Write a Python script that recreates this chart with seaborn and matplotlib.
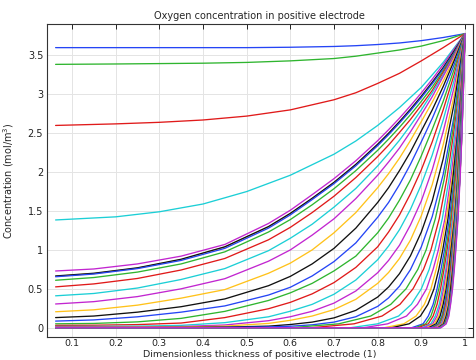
import matplotlib
matplotlib.use("Agg")
import matplotlib.pyplot as plt
import seaborn as sns
import pandas as pd

# ---------------- data ----------------
x_domain_start = 0.0625
c_surface = 3.78

# early profiles: concentration at shared positions
x_early = [0.0625, 0.2, 0.3, 0.4, 0.5, 0.6, 0.7, 0.75, 0.8, 0.85, 0.9, 0.95, 1.0]
c01 = [3.60, 3.60, 3.60, 3.60, 3.60, 3.605, 3.615, 3.625, 3.64, 3.66, 3.69, 3.73, 3.78]
c02 = [3.385, 3.39, 3.395, 3.40, 3.41, 3.43, 3.46, 3.49, 3.53, 3.57, 3.62, 3.69, 3.78]
c03 = [2.60, 2.62, 2.64, 2.67, 2.72, 2.80, 2.93, 3.02, 3.14, 3.27, 3.43, 3.60, 3.78]
c04 = [1.385, 1.425, 1.49, 1.59, 1.75, 1.96, 2.23, 2.40, 2.60, 2.83, 3.09, 3.41, 3.78]

# middle profiles: concentration at shared positions
x_mid = [0.0625, 0.15, 0.25, 0.35, 0.45, 0.55, 0.6, 0.65, 0.7, 0.75, 0.8,
         0.825, 0.85, 0.875, 0.9, 0.925, 0.95, 0.975, 1.0]
c05 = [0.729, 0.755, 0.82, 0.92, 1.07, 1.34, 1.51, 1.71, 1.916, 2.146, 2.404, 2.545, 2.694, 2.852, 3.018, 3.194, 3.381, 3.579, 3.78]
c06 = [0.66, 0.695, 0.765, 0.875, 1.035, 1.295, 1.465, 1.658, 1.862, 2.093, 2.352, 2.493, 2.643, 2.801, 2.969, 3.148, 3.337, 3.55, 3.78]
c07 = [0.665, 0.70, 0.77, 0.88, 1.04, 1.30, 1.47, 1.664, 1.869, 2.10, 2.359, 2.50, 2.65, 2.808, 2.976, 3.155, 3.343, 3.555, 3.78]
c08 = [0.655, 0.69, 0.76, 0.865, 1.02, 1.28, 1.45, 1.647, 1.851, 2.081, 2.34, 2.481, 2.631, 2.789, 2.957, 3.136, 3.325, 3.535, 3.78]
c09 = [0.61, 0.645, 0.715, 0.82, 0.975, 1.23, 1.39, 1.58, 1.787, 2.019, 2.28, 2.424, 2.576, 2.738, 2.91, 3.093, 3.30, 3.52, 3.78]
c10 = [0.525, 0.563, 0.633, 0.742, 0.89, 1.13, 1.29, 1.48, 1.69, 1.93, 2.20, 2.347, 2.51, 2.676, 2.86, 3.05, 3.28, 3.51, 3.78]
c11 = [0.41, 0.44, 0.51, 0.62, 0.76, 0.99, 1.15, 1.33, 1.55, 1.79, 2.08, 2.241, 2.41, 2.60, 2.80, 3.02, 3.25, 3.50, 3.78]
c12 = [0.305, 0.335, 0.40, 0.50, 0.63, 0.855, 1.0, 1.19, 1.40, 1.66, 1.96, 2.13, 2.31, 2.517, 2.74, 2.97, 3.23, 3.49, 3.78]
c13 = [0.205, 0.23, 0.29, 0.38, 0.49, 0.70, 0.83, 1.0, 1.22, 1.48, 1.80, 1.98, 2.18, 2.406, 2.65, 2.90, 3.17, 3.46, 3.78]
c14 = [0.13, 0.15, 0.20, 0.27, 0.37, 0.54, 0.66, 0.82, 1.02, 1.28, 1.61, 1.80, 2.02, 2.258, 2.53, 2.80, 3.10, 3.43, 3.78]
c15 = [0.085, 0.10, 0.14, 0.20, 0.28, 0.42, 0.52, 0.665, 0.85, 1.09, 1.42, 1.61, 1.84, 2.10, 2.39, 2.69, 3.02, 3.38, 3.78]
c16 = [0.05, 0.055, 0.075, 0.12, 0.21, 0.35, 0.448, 0.57, 0.73, 0.92, 1.22, 1.41, 1.64, 1.90, 2.21, 2.55, 2.91, 3.32, 3.78]
c17 = [0.03, 0.032, 0.04, 0.06, 0.13, 0.244, 0.326, 0.435, 0.58, 0.775, 1.04, 1.23, 1.45, 1.72, 2.03, 2.39, 2.80, 3.25, 3.78]
c18 = [0.017, 0.017, 0.02, 0.03, 0.065, 0.14, 0.212, 0.30, 0.43, 0.613, 0.874, 1.05, 1.26, 1.52, 1.84, 2.22, 2.67, 3.18, 3.78]
c19 = [0.009, 0.009, 0.01, 0.015, 0.035, 0.09, 0.141, 0.211, 0.316, 0.472, 0.707, 0.865, 1.06, 1.32, 1.63, 2.03, 2.52, 3.09, 3.78]
c20 = [0.005, 0.005, 0.006, 0.008, 0.02, 0.055, 0.095, 0.15, 0.233, 0.365, 0.57, 0.71, 0.89, 1.125, 1.44, 1.84, 2.35, 2.98, 3.78]
c21 = [0.002, 0.002, 0.002, 0.003, 0.008, 0.02, 0.041, 0.072, 0.126, 0.223, 0.394, 0.523, 0.695, 0.923, 1.23, 1.63, 2.17, 2.88, 3.78]
c22 = [0.001, 0.001, 0.001, 0.001, 0.003, 0.01, 0.019, 0.037, 0.072, 0.141, 0.274, 0.383, 0.534, 0.746, 1.04, 1.43, 1.97, 2.72, 3.78]

# late (front) profiles: position where each curve reaches these concentrations
c_levels = [0.0, 0.05, 0.15, 0.3, 0.5, 0.75, 1.0, 1.4, 1.9, 2.5, 3.1, 3.78]
c23 = [0.600, 0.711, 0.784, 0.830, 0.865, 0.892, 0.911, 0.932, 0.952, 0.971, 0.986, 1.0]
c24 = [0.649, 0.746, 0.810, 0.851, 0.881, 0.905, 0.922, 0.941, 0.958, 0.974, 0.988, 1.0]
c25 = [0.738, 0.800, 0.848, 0.877, 0.900, 0.918, 0.931, 0.948, 0.963, 0.977, 0.989, 1.0]
c26 = [0.768, 0.823, 0.866, 0.891, 0.912, 0.927, 0.939, 0.954, 0.967, 0.980, 0.990, 1.0]
c27 = [0.815, 0.860, 0.888, 0.907, 0.922, 0.934, 0.944, 0.957, 0.970, 0.982, 0.991, 1.0]
c28 = [0.832, 0.872, 0.898, 0.915, 0.929, 0.940, 0.949, 0.961, 0.972, 0.983, 0.992, 1.0]
c29 = [0.878, 0.904, 0.916, 0.927, 0.936, 0.945, 0.953, 0.964, 0.975, 0.984, 0.992, 1.0]
c30 = [0.886, 0.910, 0.922, 0.931, 0.940, 0.949, 0.956, 0.967, 0.976, 0.986, 0.993, 1.0]
c31 = [0.893, 0.916, 0.927, 0.936, 0.944, 0.952, 0.959, 0.969, 0.978, 0.987, 0.993, 1.0]
c32 = [0.901, 0.922, 0.932, 0.941, 0.948, 0.956, 0.962, 0.971, 0.980, 0.988, 0.994, 1.0]
c33 = [0.906, 0.926, 0.936, 0.944, 0.951, 0.958, 0.964, 0.973, 0.981, 0.988, 0.994, 1.0]
c34 = [0.912, 0.930, 0.940, 0.947, 0.954, 0.961, 0.966, 0.974, 0.982, 0.989, 0.995, 1.0]
c35 = [0.917, 0.934, 0.943, 0.950, 0.957, 0.963, 0.968, 0.976, 0.983, 0.989, 0.995, 1.0]
c36 = [0.922, 0.938, 0.947, 0.953, 0.959, 0.965, 0.970, 0.977, 0.984, 0.990, 0.995, 1.0]
c37 = [0.925, 0.940, 0.948, 0.955, 0.961, 0.966, 0.971, 0.978, 0.984, 0.990, 0.995, 1.0]
c38 = [0.927, 0.943, 0.950, 0.956, 0.962, 0.967, 0.972, 0.979, 0.985, 0.991, 0.996, 1.0]
c39 = [0.930, 0.945, 0.952, 0.958, 0.963, 0.969, 0.973, 0.979, 0.985, 0.991, 0.996, 1.0]
c40 = [0.932, 0.947, 0.954, 0.959, 0.965, 0.970, 0.974, 0.980, 0.986, 0.991, 0.996, 1.0]
c41 = [0.935, 0.949, 0.955, 0.961, 0.966, 0.971, 0.975, 0.981, 0.986, 0.992, 0.996, 1.0]
c42 = [0.938, 0.951, 0.957, 0.963, 0.967, 0.972, 0.976, 0.982, 0.987, 0.992, 0.996, 1.0]
c43 = [0.940, 0.953, 0.959, 0.964, 0.969, 0.973, 0.977, 0.982, 0.988, 0.992, 0.996, 1.0]
c44 = [0.942, 0.954, 0.960, 0.965, 0.970, 0.974, 0.9775, 0.983, 0.988, 0.993, 0.996, 1.0]
c45 = [0.943, 0.955, 0.961, 0.966, 0.970, 0.9745, 0.978, 0.983, 0.988, 0.993, 0.9965, 1.0]
c46 = [0.944, 0.956, 0.962, 0.9665, 0.971, 0.975, 0.9785, 0.9835, 0.988, 0.993, 0.9966, 1.0]
c47 = [0.945, 0.957, 0.963, 0.967, 0.9715, 0.9756, 0.979, 0.984, 0.9887, 0.9931, 0.9966, 1.0]

early_curves = [c01, c02, c03, c04]
mid_curves = [c05, c06, c07, c08, c09, c10, c11, c12, c13, c14, c15, c16, c17, c18,
              c19, c20, c21, c22]
front_curves = [c23, c24, c25, c26, c27, c28, c29, c30, c31, c32, c33, c34, c35, c36,
                c37, c38, c39, c40, c41, c42, c43, c44, c45, c46, c47]

x_ticks = [0.1, 0.2, 0.3, 0.4, 0.5, 0.6, 0.7, 0.8, 0.9, 1.0]
x_tick_labels = ["0.1", "0.2", "0.3", "0.4", "0.5", "0.6", "0.7", "0.8", "0.9", "1"]
y_ticks = [0, 0.5, 1.0, 1.5, 2.0, 2.5, 3.0, 3.5]
y_tick_labels = ["0", "0.5", "1", "1.5", "2", "2.5", "3", "3.5"]

# ---------------- build long table ----------------
rows = []
n = 0
for ys in early_curves:
    n += 1
    for x, y in zip(x_early, ys):
        rows.append((f"c{n:02d}", x, y))
for ys in mid_curves:
    n += 1
    for x, y in zip(x_mid, ys):
        rows.append((f"c{n:02d}", x, y))
for xs in front_curves:
    n += 1
    rows.append((f"c{n:02d}", x_domain_start, 0.0))
    for x, y in zip(xs, c_levels):
        rows.append((f"c{n:02d}", x, y))
df = pd.DataFrame(rows, columns=["curve", "x", "y"])
names = [f"c{i:02d}" for i in range(1, n + 1)]

cycle = ["#2545f5", "#2fb52f", "#e01a1a", "#1ccfd6", "#c226d0", "#ffc21a", "#111111"]
palette = {name: cycle[i % 7] for i, name in enumerate(names)}

# ---------------- draw ----------------
sns.set_style("white")
plt.rcParams["font.family"] = ["DejaVu Sans"]
fig = plt.figure(figsize=(4.77, 3.6), dpi=100)
ax = fig.add_axes([0.0979, 0.0647, 0.8937, 0.8678])

sns.lineplot(data=df, x="x", y="y", hue="curve", hue_order=names, palette=palette,
             estimator=None, sort=False, legend=False, linewidth=0.95, ax=ax)

ax.set_xlim(0.0421, 1.0183)
ax.set_ylim(-0.1157, 3.90)
ax.set_xticks(x_ticks)
ax.set_xticklabels(x_tick_labels)
ax.set_yticks(y_ticks)
ax.set_yticklabels(y_tick_labels)
ax.grid(True, color="#e4e4e4", linewidth=0.7)
ax.set_axisbelow(True)
ax.tick_params(direction="in", length=3.5, width=0.7, top=True, right=True,
               labelsize=7, colors="#222222")
ax.tick_params(axis="x", pad=2, labelsize=6.8)
ax.tick_params(axis="y", pad=2.5)
for s in ax.spines.values():
    s.set_color("#333333")
    s.set_linewidth(0.8)

ax.set_title("Oxygen concentration in positive electrode", fontsize=7, pad=4)
ax.set_xlabel("Dimensionless thickness of positive electrode (1)", fontsize=6.8,
              va="center")
ax.xaxis.set_label_coords(0.5, -0.0575)
ax.set_ylabel("Concentration (mol/m$^3$)", fontsize=7, va="center")
ax.yaxis.set_label_coords(-0.089, 0.5)

fig.savefig("out.png", dpi=100)
